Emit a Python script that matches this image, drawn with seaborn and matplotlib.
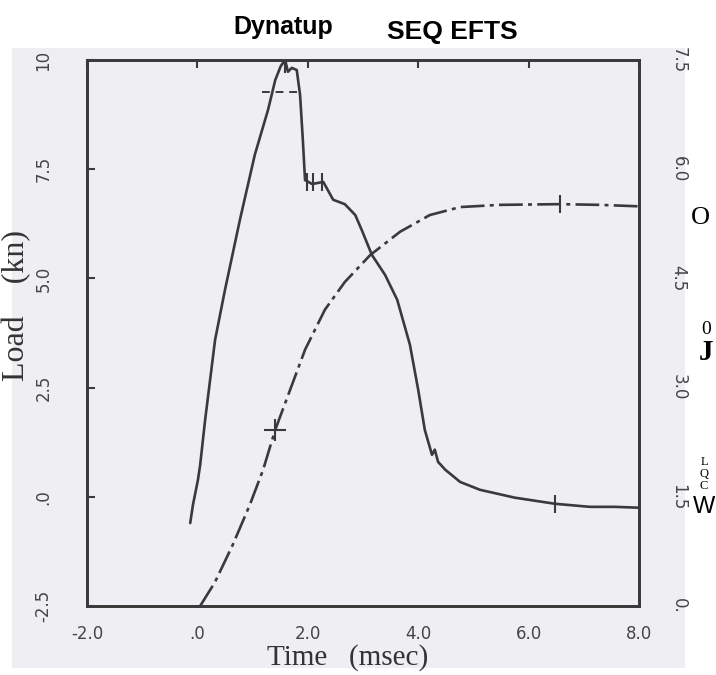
import matplotlib
matplotlib.use("Agg")
import matplotlib.pyplot as plt
import seaborn as sns
import pandas as pd
from matplotlib.patches import Rectangle

# ---- data ----
load_time = [-0.13, -0.08, 0.01, 0.05, 0.14, 0.32, 0.50, 0.77, 1.04, 1.28, 1.41, 1.51, 1.59,
             1.64, 1.71, 1.80, 1.86, 1.91, 1.95, 2.08, 2.28, 2.46, 2.67, 2.86, 2.98, 3.16,
             3.40, 3.62, 3.85, 4.00, 4.12, 4.25, 4.30, 4.36, 4.49, 4.76, 5.12, 5.75, 6.48,
             7.11, 7.57, 8.00]
load_kn = [-0.60, -0.18, 0.39, 0.73, 1.76, 3.59, 4.74, 6.34, 7.83, 8.86, 9.54, 9.86, 10.0,
           9.73, 9.82, 9.77, 9.20, 8.17, 7.25, 7.16, 7.21, 6.80, 6.70, 6.45, 6.10, 5.54,
           5.08, 4.51, 3.48, 2.45, 1.53, 0.96, 1.08, 0.80, 0.62, 0.34, 0.16, -0.02, -0.16,
           -0.23, -0.23, -0.25]

energy_time = [0.05, 0.32, 0.64, 0.95, 1.19, 1.41, 1.68, 1.95, 2.31, 2.67, 3.13, 3.67, 4.21,
               4.76, 5.48, 6.57, 7.29, 8.00]
energy_j = [0.00, 0.33, 0.84, 1.39, 1.87, 2.42, 2.97, 3.52, 4.07, 4.45, 4.82, 5.14, 5.37,
            5.48, 5.51, 5.52, 5.51, 5.49]

# cursor marks drawn on the curves
peak_band_time = [1.17, 1.82]
peak_band_load = [9.27, 9.27]
load_tick_time = [1.59, 1.98, 2.10, 2.25, 6.48]
load_tick_kn = [9.90, 7.20, 7.20, 7.20, -0.16]
energy_tick_time = [1.41, 6.57]
energy_tick_j = [2.42, 5.52]

x_ticks = [-2.0, 0.0, 2.0, 4.0, 6.0, 8.0]
x_labels = ["-2.0", ".0", "2.0", "4.0", "6.0", "8.0"]
y_ticks = [-2.5, 0.0, 2.5, 5.0, 7.5, 10.0]
y_labels = ["-2.5", ".0", "2.5", "5.0", "7.5", "10"]
y2_ticks = [0.0, 1.5, 3.0, 4.5, 6.0, 7.5]
y2_labels = ["0.", "1.5", "3.0", "4.5", "6.0", "7.5"]

paper = "#eeeef3"
ink = "#3a3a3a"

sns.set_theme(style="white")
plt.rcParams["font.family"] = ["DejaVu Sans"]

fig = plt.figure(figsize=(7.16, 6.75), dpi=100, facecolor="white")
bg = Rectangle((12 / 716, 1 - 668 / 675), (685 - 12) / 716, (668 - 48) / 675,
               transform=fig.transFigure, facecolor=paper, edgecolor="none", zorder=-10)
fig.add_artist(bg)

ax = fig.add_axes([87 / 716, 1 - 606 / 675, (639 - 87) / 716, (606 - 60) / 675])
ax.set_facecolor(paper)
ax2 = ax.twinx()

df_load = pd.DataFrame({"t": load_time, "L": load_kn})
df_en = pd.DataFrame({"t": energy_time, "E": energy_j})

sns.lineplot(data=df_load, x="t", y="L", ax=ax, color=ink, lw=1.9, sort=False)
sns.lineplot(data=df_en, x="t", y="E", ax=ax2, color=ink, lw=1.9, sort=False,
             linestyle=(0, (9, 2, 1.5, 2)))

ax.plot(peak_band_time, peak_band_load, color=ink, lw=1.4, linestyle=(0, (4, 3)))
sns.scatterplot(x=load_tick_time, y=load_tick_kn, ax=ax, marker="|", s=180,
                color=ink, linewidth=1.5)
sns.scatterplot(x=energy_tick_time[:1], y=energy_tick_j[:1], ax=ax2, marker="+", s=260,
                color=ink, linewidth=1.5)
sns.scatterplot(x=energy_tick_time[1:], y=energy_tick_j[1:], ax=ax2, marker="|", s=180,
                color=ink, linewidth=1.5)

ax.set_xlim(-2.0, 8.0)
ax.set_ylim(-2.5, 10.0)
ax2.set_ylim(0.0, 7.5)

tickfont = ["DejaVu Sans"]
ax.set_xticks(x_ticks)
ax.set_xticklabels(x_labels, fontsize=12, color="#454545", family=tickfont)
ax.set_yticks(y_ticks)
ax.set_yticklabels(y_labels, fontsize=12, color="#454545", family=tickfont, rotation=90,
                   va="center")
ax2.set_yticks(y2_ticks)
ax2.set_yticklabels(y2_labels, fontsize=12, color="#454545", family=tickfont, rotation=-90,
                    va="center")

ax.tick_params(axis="x", direction="in", length=6, width=1.5, color=ink, pad=14, top=True)
ax.tick_params(axis="y", direction="in", length=6, width=1.5, color=ink, pad=25)
ax2.tick_params(axis="y", direction="in", length=0, width=1.5, color=ink, pad=22)

for a in (ax, ax2):
    for s in a.spines.values():
        s.set_color(ink)
        s.set_linewidth(2.0)

ax.set_xlabel("Time   (msec)", fontsize=21, family=["Liberation Serif"], color="#333333")
ax.xaxis.label.set_va("center")
ax.xaxis.set_label_coords(0.473, -0.095)
ax.set_ylabel("Load    (kn)", fontsize=23, family=["Liberation Serif"], color="#333333")
ax.yaxis.label.set_va("center")
ax.yaxis.set_label_coords(-0.128, 0.55)
ax2.set_ylabel("")

# header texts
fig.text(283 / 716, 1 - 27 / 675, "Dynatup", ha="center", va="center", fontsize=18,
         fontweight="bold", family=["Liberation Sans"], color="black")
fig.text(452 / 716, 1 - 32 / 675, "SEQ EFTS", ha="center", va="center", fontsize=19,
         fontweight="bold", family=["Liberation Sans"], color="black")

# side characters
fig.text(700 / 716, 1 - 218 / 675, "O", ha="center", va="center", fontsize=19,
         family=["Liberation Serif"], color="black")
fig.text(706 / 716, 1 - 330 / 675, "0", ha="center", va="center", fontsize=14,
         family=["Liberation Serif"], color="black")
fig.text(706 / 716, 1 - 353 / 675, "J", ha="center", va="center", fontsize=21,
         fontweight="bold", family=["Liberation Serif"], color="black")
fig.text(704 / 716, 1 - 462 / 675, "L", ha="center", va="center", fontsize=9,
         family=["Liberation Serif"], color="black")
fig.text(704 / 716, 1 - 474 / 675, "Q", ha="center", va="center", fontsize=9,
         family=["Liberation Serif"], color="black")
fig.text(704 / 716, 1 - 486 / 675, "C", ha="center", va="center", fontsize=9,
         family=["Liberation Serif"], color="black")
fig.text(704 / 716, 1 - 507 / 675, "W", ha="center", va="center", fontsize=17,
         family=["Liberation Sans"], color="black")

fig.savefig("out.png", dpi=100, facecolor="white")
